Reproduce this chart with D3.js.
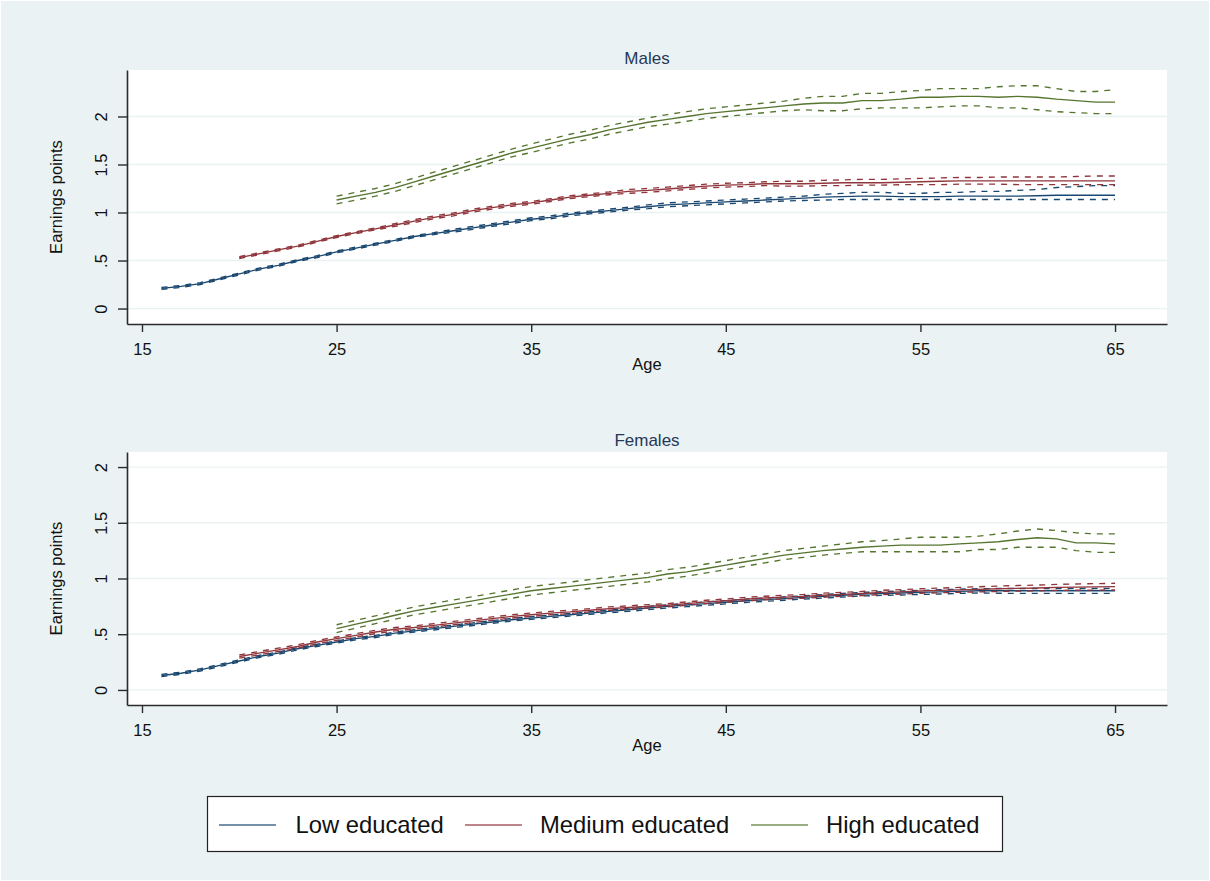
<!DOCTYPE html>
<html>
<head>
<meta charset="utf-8">
<script src="https://cdn.jsdelivr.net/npm/d3@7"></script>
<style>
  html, body { margin: 0; padding: 0; background: #eaf2f3; }
  svg { display: block; font-family: "Liberation Sans", Arial, sans-serif; }
</style>
</head>
<body>
<svg id="chart" width="1210" height="881"></svg>
<script>
// Age grids for each education group
const agesLow = d3.range(16, 66);
const agesMedium = d3.range(20, 66);
const agesHigh = d3.range(25, 66);

// Males: estimate, lower and upper bound of the confidence band
const malesLowEst = [0.21,0.23,0.26,0.31,0.36,0.41,0.45,0.50,0.54,0.59,0.63,0.67,0.71,0.75,0.78,0.81,0.84,0.87,0.90,0.93,0.95,0.98,1.00,1.02,1.04,1.06,1.08,1.09,1.10,1.11,1.12,1.13,1.14,1.15,1.16,1.165,1.17,1.17,1.165,1.165,1.165,1.17,1.17,1.17,1.17,1.175,1.18,1.18,1.18,1.18];
const malesLowHi = [0.22,0.24,0.27,0.32,0.37,0.42,0.46,0.51,0.55,0.60,0.64,0.68,0.72,0.76,0.79,0.825,0.855,0.885,0.915,0.945,0.965,0.995,1.015,1.035,1.055,1.08,1.10,1.11,1.12,1.13,1.14,1.15,1.16,1.17,1.19,1.20,1.21,1.21,1.20,1.20,1.21,1.21,1.22,1.22,1.23,1.24,1.26,1.27,1.28,1.28];
const malesLowLo = [0.20,0.22,0.25,0.30,0.35,0.40,0.44,0.49,0.53,0.58,0.62,0.66,0.70,0.74,0.77,0.795,0.825,0.855,0.885,0.915,0.935,0.965,0.985,1.005,1.025,1.04,1.06,1.07,1.08,1.09,1.10,1.11,1.12,1.125,1.13,1.135,1.135,1.135,1.135,1.135,1.135,1.135,1.135,1.135,1.135,1.135,1.135,1.135,1.135,1.135];

const malesMediumEst = [0.53,0.57,0.61,0.65,0.70,0.75,0.79,0.83,0.87,0.91,0.95,0.98,1.02,1.05,1.08,1.10,1.13,1.16,1.18,1.20,1.22,1.23,1.245,1.26,1.275,1.285,1.29,1.30,1.30,1.30,1.305,1.31,1.31,1.31,1.315,1.32,1.325,1.33,1.33,1.33,1.33,1.33,1.33,1.33,1.33,1.33];
const malesMediumHi = [0.54,0.58,0.62,0.66,0.71,0.76,0.80,0.84,0.885,0.925,0.965,0.995,1.035,1.065,1.095,1.115,1.145,1.175,1.195,1.215,1.24,1.25,1.265,1.28,1.295,1.305,1.31,1.32,1.325,1.325,1.335,1.34,1.345,1.345,1.35,1.355,1.36,1.365,1.365,1.37,1.37,1.37,1.37,1.375,1.38,1.38];
const malesMediumLo = [0.52,0.56,0.60,0.64,0.69,0.74,0.78,0.82,0.855,0.895,0.935,0.965,1.005,1.035,1.065,1.085,1.115,1.145,1.165,1.185,1.20,1.21,1.225,1.24,1.255,1.265,1.27,1.28,1.275,1.275,1.28,1.28,1.285,1.285,1.29,1.29,1.29,1.295,1.295,1.295,1.29,1.29,1.29,1.29,1.29,1.29];

const malesHighEst = [1.13,1.17,1.21,1.26,1.32,1.38,1.44,1.50,1.56,1.62,1.67,1.72,1.77,1.81,1.86,1.90,1.94,1.97,2.00,2.03,2.05,2.07,2.09,2.11,2.13,2.14,2.14,2.165,2.165,2.18,2.20,2.20,2.21,2.21,2.20,2.21,2.20,2.18,2.165,2.15,2.15];
const malesHighHi = [1.17,1.21,1.25,1.30,1.36,1.42,1.48,1.54,1.60,1.66,1.715,1.765,1.815,1.855,1.905,1.945,1.985,2.02,2.05,2.08,2.10,2.12,2.14,2.16,2.19,2.21,2.21,2.24,2.24,2.26,2.27,2.29,2.29,2.29,2.31,2.32,2.32,2.29,2.26,2.26,2.28];
const malesHighLo = [1.09,1.13,1.17,1.22,1.28,1.34,1.40,1.46,1.52,1.58,1.625,1.675,1.725,1.765,1.815,1.855,1.895,1.92,1.95,1.98,2.00,2.02,2.04,2.06,2.07,2.06,2.06,2.08,2.09,2.09,2.09,2.10,2.11,2.11,2.09,2.09,2.07,2.05,2.04,2.03,2.03];

// Females: estimate, lower and upper bound of the confidence band
const femalesLowEst = [0.13,0.15,0.18,0.22,0.26,0.30,0.33,0.37,0.40,0.43,0.46,0.48,0.51,0.53,0.55,0.57,0.59,0.61,0.63,0.645,0.66,0.675,0.69,0.705,0.72,0.735,0.75,0.762,0.775,0.787,0.80,0.81,0.82,0.83,0.84,0.85,0.86,0.865,0.87,0.875,0.88,0.885,0.89,0.89,0.89,0.89,0.89,0.89,0.89,0.89];
const femalesLowHi = [0.14,0.16,0.19,0.23,0.27,0.31,0.34,0.38,0.41,0.44,0.47,0.49,0.52,0.54,0.562,0.582,0.602,0.622,0.642,0.657,0.672,0.687,0.702,0.717,0.735,0.75,0.765,0.777,0.79,0.802,0.815,0.825,0.835,0.845,0.856,0.866,0.876,0.882,0.888,0.893,0.899,0.904,0.909,0.91,0.91,0.91,0.91,0.91,0.91,0.91];
const femalesLowLo = [0.12,0.14,0.17,0.21,0.25,0.29,0.32,0.36,0.39,0.42,0.45,0.47,0.50,0.52,0.538,0.558,0.578,0.598,0.618,0.633,0.648,0.663,0.678,0.693,0.705,0.72,0.735,0.747,0.76,0.772,0.785,0.795,0.805,0.815,0.824,0.834,0.844,0.848,0.852,0.857,0.861,0.866,0.87,0.868,0.866,0.866,0.866,0.866,0.866,0.866];

const femalesMediumEst = [0.30,0.33,0.36,0.39,0.43,0.46,0.49,0.52,0.545,0.56,0.58,0.60,0.62,0.64,0.66,0.675,0.69,0.70,0.715,0.73,0.74,0.75,0.76,0.775,0.79,0.80,0.815,0.825,0.833,0.84,0.85,0.858,0.865,0.875,0.88,0.888,0.893,0.898,0.903,0.908,0.912,0.915,0.92,0.923,0.925,0.927];
const femalesMediumHi = [0.315,0.345,0.375,0.405,0.445,0.475,0.505,0.535,0.56,0.575,0.595,0.615,0.635,0.655,0.675,0.69,0.705,0.715,0.73,0.745,0.755,0.765,0.775,0.79,0.805,0.816,0.831,0.841,0.85,0.857,0.868,0.876,0.884,0.894,0.90,0.908,0.914,0.92,0.926,0.932,0.937,0.941,0.947,0.951,0.954,0.957];
const femalesMediumLo = [0.285,0.315,0.345,0.375,0.415,0.445,0.475,0.505,0.53,0.545,0.565,0.585,0.605,0.625,0.645,0.66,0.675,0.685,0.70,0.715,0.725,0.735,0.745,0.76,0.775,0.784,0.799,0.809,0.816,0.823,0.832,0.84,0.846,0.856,0.86,0.868,0.872,0.876,0.88,0.884,0.887,0.889,0.893,0.895,0.896,0.897];

const femalesHighEst = [0.55,0.59,0.63,0.67,0.71,0.74,0.77,0.80,0.83,0.86,0.89,0.91,0.93,0.95,0.97,0.99,1.01,1.04,1.06,1.09,1.12,1.15,1.18,1.21,1.23,1.25,1.265,1.28,1.29,1.30,1.30,1.30,1.31,1.32,1.33,1.35,1.366,1.355,1.32,1.32,1.31];
const femalesHighHi = [0.585,0.625,0.665,0.705,0.745,0.777,0.807,0.837,0.867,0.897,0.928,0.948,0.968,0.99,1.01,1.03,1.05,1.08,1.10,1.13,1.16,1.19,1.22,1.25,1.27,1.29,1.31,1.33,1.34,1.355,1.37,1.37,1.37,1.38,1.40,1.426,1.444,1.43,1.41,1.40,1.40];
const femalesHighLo = [0.515,0.555,0.595,0.635,0.675,0.703,0.733,0.763,0.793,0.823,0.852,0.872,0.892,0.91,0.93,0.95,0.97,1.00,1.02,1.05,1.08,1.11,1.14,1.17,1.19,1.21,1.225,1.24,1.24,1.24,1.24,1.24,1.24,1.26,1.26,1.28,1.28,1.28,1.25,1.235,1.235];

// Axis ticks and labels
const xTicks = [15, 25, 35, 45, 55, 65];
const yTicks = [0, 0.5, 1, 1.5, 2];
const yTickLabels = ["0", ".5", "1", "1.5", "2"];
const groupNames = ["Low educated", "Medium educated", "High educated"];
const groupColors = ["#1a476f", "#90353b", "#55752f"];

const svg = d3.select("#chart");
const font = "'Liberation Sans', Arial, sans-serif";

svg.append("rect").attr("width", 1210).attr("height", 881).attr("fill", "#eaf2f3");
svg.append("rect").attr("x", 0.5).attr("y", 0.5).attr("width", 1209).attr("height", 880)
  .attr("fill", "none").attr("stroke", "#ffffff").attr("stroke-width", 1);

const plotLeft = 127, plotRight = 1167;
const x = d3.scaleLinear().domain([14.23, 67.67]).range([plotLeft, plotRight]);

function drawPanel(cfg) {
  const y = d3.scaleLinear().domain(cfg.yDomain).range([cfg.bottom, cfg.top]);
  const g = svg.append("g");

  g.append("rect")
    .attr("x", plotLeft).attr("y", cfg.top)
    .attr("width", plotRight - plotLeft).attr("height", cfg.bottom - cfg.top)
    .attr("fill", "#ffffff");

  // horizontal grid
  g.append("g").selectAll("line").data(yTicks).join("line")
    .attr("x1", plotLeft).attr("x2", plotRight)
    .attr("y1", d => y(d)).attr("y2", d => y(d))
    .attr("stroke", "#eaf2f3").attr("stroke-width", 1.3);

  // series: confidence bounds dashed, estimate solid
  const line = d3.line().x(d => x(d[0])).y(d => y(d[1]));
  cfg.series.forEach((s, i) => {
    const color = groupColors[i];
    [s.lo, s.hi].forEach(arr => {
      g.append("path")
        .datum(s.ages.map((a, k) => [a, arr[k]]))
        .attr("d", line).attr("fill", "none")
        .attr("stroke", color).attr("stroke-width", 1.35)
        .attr("stroke-dasharray", "6,6");
    });
    g.append("path")
      .datum(s.ages.map((a, k) => [a, s.est[k]]))
      .attr("d", line).attr("fill", "none")
      .attr("stroke", color).attr("stroke-width", 1.35);
  });

  // y axis
  const yAxis = g.append("g").attr("transform", `translate(${plotLeft},0)`)
    .call(d3.axisLeft(y).tickValues(yTicks).tickSize(9).tickSizeOuter(0)
      .tickFormat((d, i) => yTickLabels[i]));
  yAxis.select(".domain").attr("stroke", "#2b2b2b").attr("stroke-width", 1.6);
  yAxis.selectAll(".tick line").attr("stroke", "#2b2b2b").attr("stroke-width", 1.4);
  yAxis.selectAll(".tick text")
    .attr("x", null).attr("dy", null)
    .attr("transform", "translate(-20,0) rotate(-90)")
    .attr("text-anchor", "middle")
    .attr("font-family", font).attr("font-size", 16.5).attr("fill", "#111");

  // x axis
  const xAxis = g.append("g").attr("transform", `translate(0,${cfg.bottom})`)
    .call(d3.axisBottom(x).tickValues(xTicks).tickSize(8).tickSizeOuter(0));
  xAxis.select(".domain").attr("stroke", "#2b2b2b").attr("stroke-width", 1.6);
  xAxis.selectAll(".tick line").attr("stroke", "#2b2b2b").attr("stroke-width", 1.4);
  xAxis.selectAll(".tick text")
    .attr("y", 31).attr("dy", null)
    .attr("font-family", font).attr("font-size", 16.5).attr("fill", "#111");

  // titles
  const midX = (plotLeft + plotRight) / 2;
  g.append("text").attr("x", midX).attr("y", cfg.top - 6)
    .attr("text-anchor", "middle").attr("font-family", font).attr("font-size", 17)
    .attr("fill", "#243858").text(cfg.title);
  g.append("text").attr("x", midX).attr("y", cfg.bottom + 46)
    .attr("text-anchor", "middle").attr("font-family", font).attr("font-size", 16.5)
    .attr("fill", "#111").text("Age");
  g.append("text")
    .attr("transform", `translate(62,${(cfg.top + cfg.bottom) / 2}) rotate(-90)`)
    .attr("text-anchor", "middle").attr("font-family", font).attr("font-size", 16.5)
    .attr("fill", "#111").text("Earnings points");
}

drawPanel({
  title: "Males", top: 70, bottom: 324, yDomain: [-0.161, 2.484],
  series: [
    { ages: agesLow, est: malesLowEst, lo: malesLowLo, hi: malesLowHi },
    { ages: agesMedium, est: malesMediumEst, lo: malesMediumLo, hi: malesMediumHi },
    { ages: agesHigh, est: malesHighEst, lo: malesHighLo, hi: malesHighHi }
  ]
});

drawPanel({
  title: "Females", top: 452, bottom: 705, yDomain: [-0.135, 2.135],
  series: [
    { ages: agesLow, est: femalesLowEst, lo: femalesLowLo, hi: femalesLowHi },
    { ages: agesMedium, est: femalesMediumEst, lo: femalesMediumLo, hi: femalesMediumHi },
    { ages: agesHigh, est: femalesHighEst, lo: femalesHighLo, hi: femalesHighHi }
  ]
});

// legend
const legend = svg.append("g");
legend.append("rect").attr("x", 207.5).attr("y", 796.5).attr("width", 795).attr("height", 55)
  .attr("fill", "#ffffff").attr("stroke", "#222").attr("stroke-width", 1.2);
const legendLineX = [219, 465, 751];
const legendTextX = [295.5, 540, 826];
groupNames.forEach((name, i) => {
  legend.append("line")
    .attr("x1", legendLineX[i]).attr("x2", legendLineX[i] + 57)
    .attr("y1", 825).attr("y2", 825)
    .attr("stroke", groupColors[i]).attr("stroke-width", 1.3).attr("stroke-opacity", 0.8);
  legend.append("text").attr("x", legendTextX[i]).attr("y", 833)
    .attr("font-family", font).attr("font-size", 23.8).attr("fill", "#111").text(name);
});
</script>
</body>
</html>
